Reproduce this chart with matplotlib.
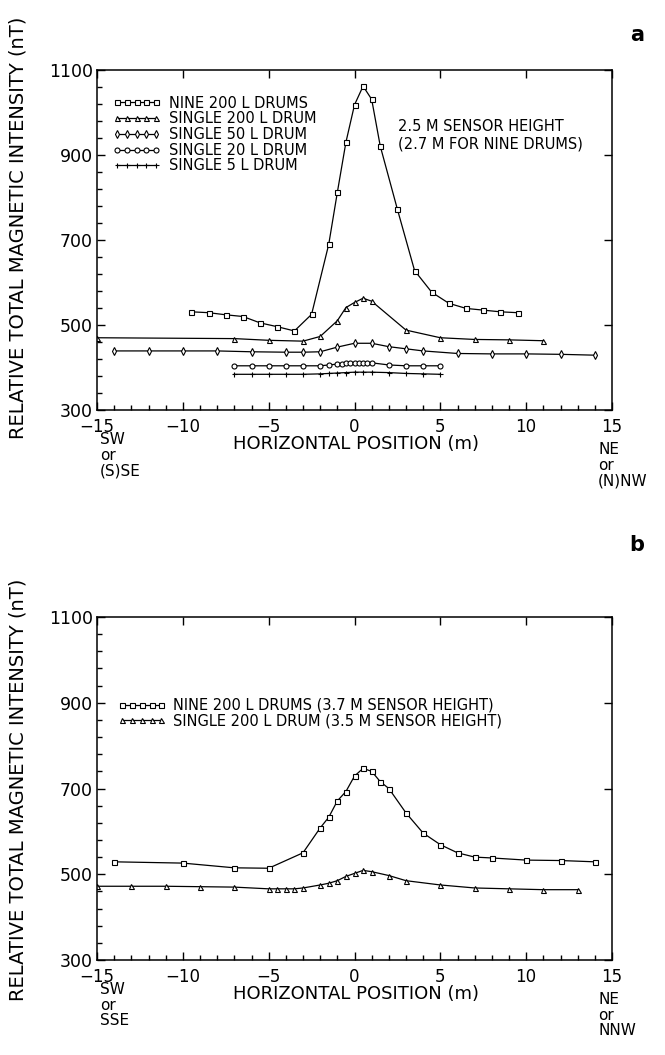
import matplotlib
matplotlib.use("Agg")
import matplotlib.pyplot as plt
from matplotlib.ticker import MultipleLocator, FixedLocator

# ---- panel a : 2.5 m sensor height (2.7 m for nine drums)
nine_a_x = [-9.5, -8.5, -7.5, -6.5, -5.5, -4.5, -3.5, -2.5, -1.5, -1, -0.5, 0, 0.5, 1, 1.5,
            2.5, 3.5, 4.5, 5.5, 6.5, 7.5, 8.5, 9.5]
nine_a_y = [531, 529, 524, 520, 505, 496, 486, 525, 690, 812, 930, 1018, 1062, 1031, 921,
            772, 628, 577, 551, 539, 535, 531, 529]

s200_a_x = [-15, -7, -5, -3, -2, -1, -0.5, 0, 0.5, 1, 3, 5, 7, 9, 11]
s200_a_y = [470, 468, 464, 462, 473, 510, 541, 553, 563, 556, 488, 470, 466, 465, 463]

s50_a_x = [-14, -12, -10, -8, -6, -4, -3, -2, -1, 0, 1, 2, 3, 4, 6, 8, 10, 12, 14]
s50_a_y = [439, 439, 439, 439, 437, 436, 436, 437, 448, 457, 457, 449, 444, 439, 433, 432, 432, 431, 429]

s20_a_x = [-7, -6, -5, -4, -3, -2, -1.5, -1, -0.75, -0.5, -0.25, 0, 0.25, 0.5, 0.75, 1, 2, 3, 4, 5]
s20_a_y = [404, 404, 404, 404, 404, 404, 406, 408, 409, 410, 410, 411, 411, 411, 411, 411, 406, 404, 404, 404]

s5_a_x = [-7, -6, -5, -4, -3, -2, -1.5, -1, -0.5, 0, 0.5, 1, 2, 3, 4, 5]
s5_a_y = [384, 384, 384, 384, 384, 385, 386, 387, 388, 389, 389, 389, 388, 386, 385, 384]

labels_a = ["NINE 200 L DRUMS", "SINGLE 200 L DRUM", "SINGLE 50 L DRUM",
            "SINGLE 20 L DRUM", "SINGLE 5 L DRUM"]

# ---- panel b
nine_b_x = [-14, -10, -7, -5, -3, -2, -1.5, -1, -0.5, 0, 0.5, 1, 1.5, 2, 3, 4, 5, 6, 7, 8, 10, 12, 14]
nine_b_y = [529, 526, 515, 514, 550, 608, 633, 671, 693, 729, 747, 740, 716, 700, 643, 596,
            569, 550, 540, 538, 533, 532, 529]

s200_b_x = [-15, -13, -11, -9, -7, -5, -4.5, -4, -3.5, -3, -2, -1.5, -1, -0.5, 0, 0.5, 1,
            2, 3, 5, 7, 9, 11, 13]
s200_b_y = [472, 472, 472, 471, 470, 466, 466, 466, 466, 468, 475, 479, 485, 495, 502, 509, 506,
            497, 485, 475, 468, 466, 464, 464]

labels_b = ["NINE 200 L DRUMS (3.7 M SENSOR HEIGHT)", "SINGLE 200 L DRUM (3.5 M SENSOR HEIGHT)"]

x_ticks = [-15, -10, -5, 0, 5, 10, 15]
x_ticklabels = ["\u221215", "\u221210", "\u22125", "0", "5", "10", "15"]
y_ticks = [300, 500, 700, 900, 1100]

W, H = 665, 1055


def fx(px):
    return px / W


def fy(py):
    return 1 - py / H


fig = plt.figure(figsize=(6.65, 10.55), dpi=100)

ln = dict(color="black", lw=0.9, mec="black", mfc="white", mew=0.8, ms=3.6)


def setup(ax):
    ax.set_xlim(-15, 15)
    ax.set_ylim(300, 1100)
    ax.xaxis.set_minor_locator(MultipleLocator(1))
    ax.yaxis.set_minor_locator(FixedLocator(list(range(300, 1101, 40))))
    ax.set_xticks(x_ticks)
    ax.set_xticklabels(x_ticklabels)
    ax.set_yticks(y_ticks)
    ax.tick_params(which="both", direction="in", top=True, right=True, width=1.0)
    ax.tick_params(which="major", length=6)
    ax.tick_params(axis="x", which="major", labelsize=12, pad=5.5)
    ax.tick_params(axis="y", which="major", labelsize=12.5, pad=3)
    ax.tick_params(which="minor", length=3.5, top=False, right=False)
    for s in ax.spines.values():
        s.set_linewidth(1.1)


# panel a
ax1 = fig.add_axes([fx(97), fy(410), fx(612) - fx(97), fy(70) - fy(410)])
setup(ax1)
ax1.plot(nine_a_x, nine_a_y, marker="s", label=labels_a[0], **ln)
ax1.plot(s200_a_x, s200_a_y, marker="^", label=labels_a[1], **ln)
ax1.plot(s50_a_x, s50_a_y, marker="d", label=labels_a[2], **ln)
ax1.plot(s20_a_x, s20_a_y, marker="o", label=labels_a[3], **ln)
ax1.plot(s5_a_x, s5_a_y, marker="+", label=labels_a[4], **ln)
ax1.legend(loc="upper left", bbox_to_anchor=(0.03, 0.925), frameon=False, numpoints=5,
           handlelength=3.3, handletextpad=0.6, labelspacing=0.05, borderaxespad=0,
           borderpad=0, fontsize=10.5)
ax1.text(0.585, 0.855, "2.5 M SENSOR HEIGHT\n(2.7 M FOR NINE DRUMS)", transform=ax1.transAxes,
         fontsize=10.5, va="top", ha="left", linespacing=1.15)

# panel b
ax2 = fig.add_axes([fx(97), fy(960), fx(612) - fx(97), fy(617) - fy(960)])
setup(ax2)
ax2.plot(nine_b_x, nine_b_y, marker="s", label=labels_b[0], **ln)
ax2.plot(s200_b_x, s200_b_y, marker="^", label=labels_b[1], **ln)
ax2.legend(loc="upper left", bbox_to_anchor=(0.04, 0.765), frameon=False, numpoints=5,
           handlelength=3.3, handletextpad=0.5, labelspacing=0.05, borderaxespad=0,
           borderpad=0, fontsize=10.5)

# labels outside the axes
for yc, xl_y, sw_y, ne_y, sw_txt, ne_txt in [
        (228, 444, 432, 442, "SW\nor\n(S)SE", "NE\nor\n(N)NW"),
        (790, 994, 982, 992, "SW\nor\nSSE", "NE\nor\nNNW")]:
    fig.text(fx(18), fy(yc), "RELATIVE TOTAL MAGNETIC INTENSITY (nT)", rotation=90,
             ha="center", va="center", fontsize=14)
    fig.text(fx(356), fy(xl_y), "HORIZONTAL POSITION (m)", ha="center", va="center", fontsize=13)
    fig.text(fx(100), fy(sw_y), sw_txt, ha="left", va="top", fontsize=11, linespacing=1.05)
    fig.text(fx(598), fy(ne_y), ne_txt, ha="left", va="top", fontsize=11, linespacing=1.05)

fig.text(fx(637), fy(35), "a", ha="center", va="center", fontsize=15, fontweight="bold")
fig.text(fx(637), fy(545), "b", ha="center", va="center", fontsize=15, fontweight="bold")

fig.savefig("out.png", dpi=100)
